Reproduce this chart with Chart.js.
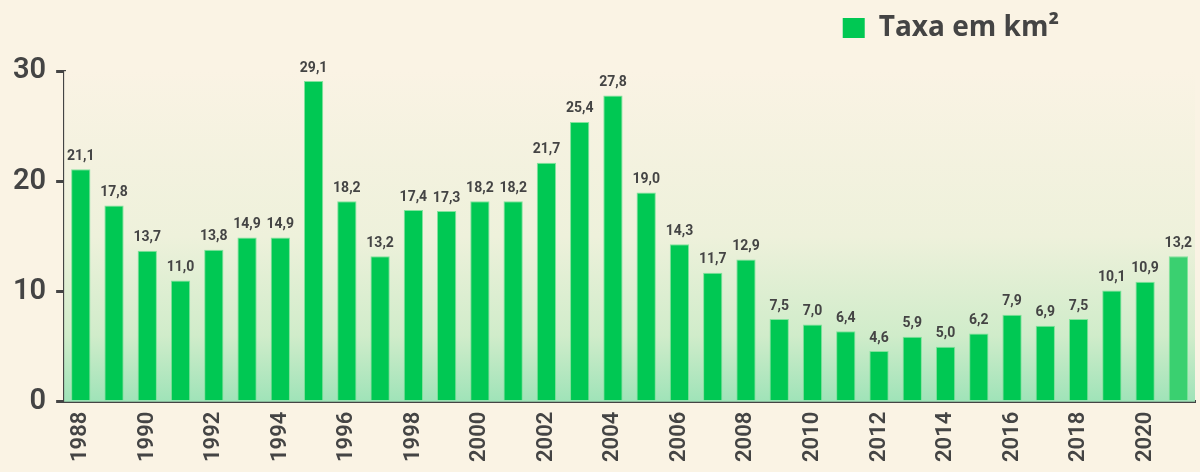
<!DOCTYPE html>
<html>
<head>
<meta charset="utf-8">
<script src="https://cdn.jsdelivr.net/npm/chart.js@4/dist/chart.umd.min.js"></script>
<style>
  html, body { margin: 0; padding: 0; background: #faf3e4; }
  #wrap { width: 1200px; height: 472px; }
</style>
</head>
<body>
<div id="wrap"><canvas id="chart"></canvas></div>
<script>
// values (km², one per year)
const years = [1988, 1989, 1990, 1991, 1992, 1993, 1994, 1995, 1996, 1997, 1998, 1999,
    2000, 2001, 2002, 2003, 2004, 2005, 2006, 2007, 2008, 2009, 2010, 2011,
    2012, 2013, 2014, 2015, 2016, 2017, 2018, 2019, 2020, 2021];
const taxa = [21.1, 17.8, 13.7, 11.0, 13.8, 14.9, 14.9, 29.1, 18.2, 13.2, 17.4, 17.3,
    18.2, 18.2, 21.7, 25.4, 27.8, 19.0, 14.3, 11.7, 12.9, 7.5, 7.0, 6.4,
    4.6, 5.9, 5.0, 6.2, 7.9, 6.9, 7.5, 10.1, 10.9, 13.2];
const yTicks = [0, 10, 20, 30];
const seriesLabel = 'Taxa em km²';

const ink = '#444444';
const green = '#00c853';

// last year is an estimate, drawn a bit lighter
const barColors = taxa.map((v, i) => i === taxa.length - 1 ? '#3ad070' : green);

function formatValue(v) {
    return v.toFixed(1).replace('.', ',');
}

// soft cream -> green wash behind the bars
const plotBackground = {
    id: 'plotBackground',
    beforeDatasetsDraw(chart) {
        const { ctx, chartArea } = chart;
        const g = ctx.createLinearGradient(0, chartArea.top, 0, chartArea.bottom);
        g.addColorStop(0, '#faf3e4');
        g.addColorStop(0.5, '#eef1db');
        g.addColorStop(0.8, '#d0ecca');
        g.addColorStop(1, '#9fe3b8');
        ctx.save();
        ctx.fillStyle = g;
        ctx.fillRect(chartArea.left, chartArea.top, chartArea.right - chartArea.left, chartArea.bottom - chartArea.top);
        ctx.restore();
    }
};

// value labels above each bar
const valueLabels = {
    id: 'valueLabels',
    afterDatasetsDraw(chart) {
        const { ctx } = chart;
        const meta = chart.getDatasetMeta(0);
        ctx.save();
        ctx.font = 'bold 14px Roboto';
        ctx.fillStyle = ink;
        ctx.textAlign = 'center';
        ctx.textBaseline = 'bottom';
        meta.data.forEach((bar, i) => {
            ctx.fillText(formatValue(taxa[i]), bar.x, bar.y - 6);
        });
        ctx.restore();
    }
};

// push the legend a bit in from the right edge
const legendShift = {
    id: 'legendShift',
    afterLayout(chart) {
        if (chart.legend) {
            chart.legend.left -= 124;
            chart.legend.right -= 124;
        }
    }
};

const ctx = document.getElementById('chart').getContext('2d');
new Chart(ctx, {
    type: 'bar',
    data: {
        labels: years,
        datasets: [{
            label: seriesLabel,
            data: taxa,
            backgroundColor: barColors,
            borderColor: 'rgba(120, 225, 150, 0.9)',
            borderWidth: 1,
            barPercentage: 0.58,
            categoryPercentage: 1.0
        }]
    },
    options: {
        responsive: true,
        maintainAspectRatio: false,
        animation: false,
        layout: { padding: { left: 3, right: 5, top: 2, bottom: 0 } },
        plugins: {
            legend: {
                display: true,
                align: 'end',
                labels: {
                    color: ink,
                    font: { family: 'Open Sans', size: 28, weight: 'bold' },
                    boxWidth: 22,
                    boxHeight: 20,
                    padding: 12,
                    generateLabels(chart) {
                        return [{
                            text: seriesLabel,
                            fillStyle: green,
                            strokeStyle: green,
                            lineWidth: 0,
                            fontColor: ink,
                            datasetIndex: 0
                        }];
                    }
                }
            },
            // empty subtitle used as a spacer between legend and plot
            subtitle: {
                display: true,
                text: ' ',
                weight: 500,
                font: { size: 1 },
                padding: { top: 0, bottom: 18 }
            },
            tooltip: { enabled: false }
        },
        scales: {
            x: {
                afterFit(scale) {
                    // the rotated last label should not shrink the plot
                    scale.paddingRight = 0;
                    scale.paddingLeft = 0;
                },
                grid: { drawOnChartArea: false, drawTicks: false },
                border: { display: true, color: ink, width: 3 },
                ticks: {
                    autoSkip: false,
                    maxRotation: 90,
                    minRotation: 90,
                    padding: 10,
                    color: ink,
                    font: { family: 'Roboto', size: 22, weight: '600' },
                    callback: function (value, index) {
                        const y = years[index];
                        return y % 2 === 0 ? String(y) : '';
                    }
                }
            },
            y: {
                min: 0,
                max: 30,
                afterBuildTicks(axis) {
                    axis.ticks = yTicks.map(v => ({ value: v }));
                },
                grid: { drawOnChartArea: false, drawTicks: true, tickLength: 8, color: ink, lineWidth: 3 },
                border: { display: true, color: ink, width: 3 },
                ticks: {
                    padding: 10,
                    color: ink,
                    font: { family: 'Roboto', size: 29, weight: '600' }
                }
            }
        }
    },
    plugins: [plotBackground, valueLabels, legendShift]
});
</script>
</body>
</html>
